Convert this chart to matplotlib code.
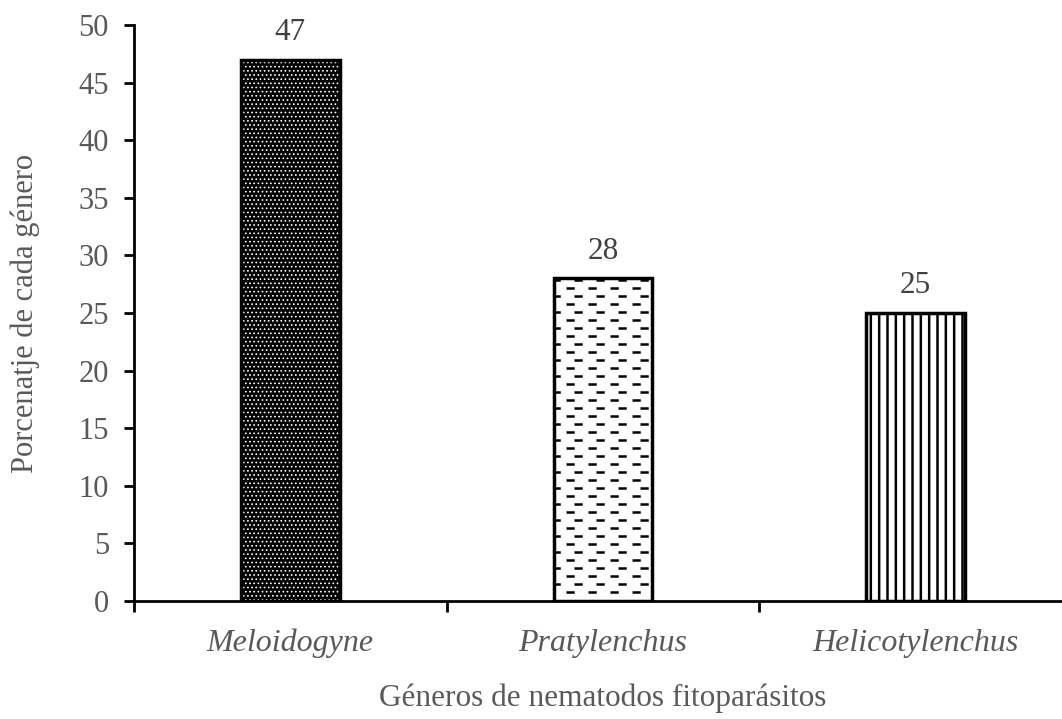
import numpy as np
import matplotlib.pyplot as plt

generos = ["Meloidogyne", "Pratylenchus", "Helicotylenchus"]
porcentaje = [47, 28, 25]

plt.rcParams["font.family"] = ["Liberation Serif", "DejaVu Serif"]

fig = plt.figure(figsize=(10.62, 7.19), dpi=100)
ax = fig.add_axes([134 / 1062, 1 - 601 / 719, 938 / 1062, 576 / 719])

x = np.arange(len(generos))
w = 0.316
gris = "#595959"

# Meloidogyne: dark bar with a fine white dot pattern
with plt.rc_context({"hatch.linewidth": 0.7}):
    ax.bar(x[0], porcentaje[0], w, color="black", edgecolor="white", hatch="....", linewidth=0)
ax.bar(x[0], porcentaje[0], w, fill=False, edgecolor="black", linewidth=2.5)

# Pratylenchus: white bar with staggered horizontal dashes
b1 = ax.bar(x[1], porcentaje[1], w, color="white", edgecolor="black", linewidth=2.5, zorder=2)[0]
ys = np.arange(0.8, porcentaje[1], 8 / 11.52)
for i, yy in enumerate(ys):
    off = 0 if i % 2 == 0 else 8 / 313
    ln, = ax.plot([x[1] - w / 2 - 0.03 + off, x[1] + w / 2 + 0.03], [yy, yy],
                  color="black", lw=1.8, ls=(0, (3.3, 5.5)), zorder=3)
    ln.set_clip_path(b1)

# Helicotylenchus: vertical lines
with plt.rc_context({"hatch.linewidth": 1.8}):
    ax.bar(x[2], porcentaje[2], w, color="white", edgecolor="black", hatch="||", linewidth=2.5)

for xi, v in zip(x, porcentaje):
    ax.text(xi, v + 1.1, f"{v}", ha="center", va="bottom", fontsize=22.5, color="#404040")

ax.set_xlim(-0.5, 2.5)
ax.set_ylim(0, 50)
ax.set_yticks(range(0, 51, 5))
ax.set_xticks([-0.5, 0.5, 1.5, 2.5])
ax.set_xticklabels([])
ax.set_xticks(x, minor=True)
ax.set_xticklabels(generos, minor=True, fontstyle="italic", fontsize=23, color=gris)
ax.tick_params(axis="x", which="minor", length=0, pad=20)
ax.tick_params(axis="x", which="major", length=8, width=2, direction="out")
ax.tick_params(axis="y", length=7, width=2, direction="out", labelsize=22, labelcolor=gris, pad=11)

for s in ["top", "right"]:
    ax.spines[s].set_visible(False)
for s in ["left", "bottom"]:
    ax.spines[s].set_linewidth(2)

ax.set_ylabel("Porcenatje de cada género", fontsize=22, color=gris, labelpad=28)
ax.set_xlabel("Géneros de nematodos fitoparásitos", fontsize=22.5, color=gris, labelpad=18)

fig.savefig("out.png", dpi=100)
